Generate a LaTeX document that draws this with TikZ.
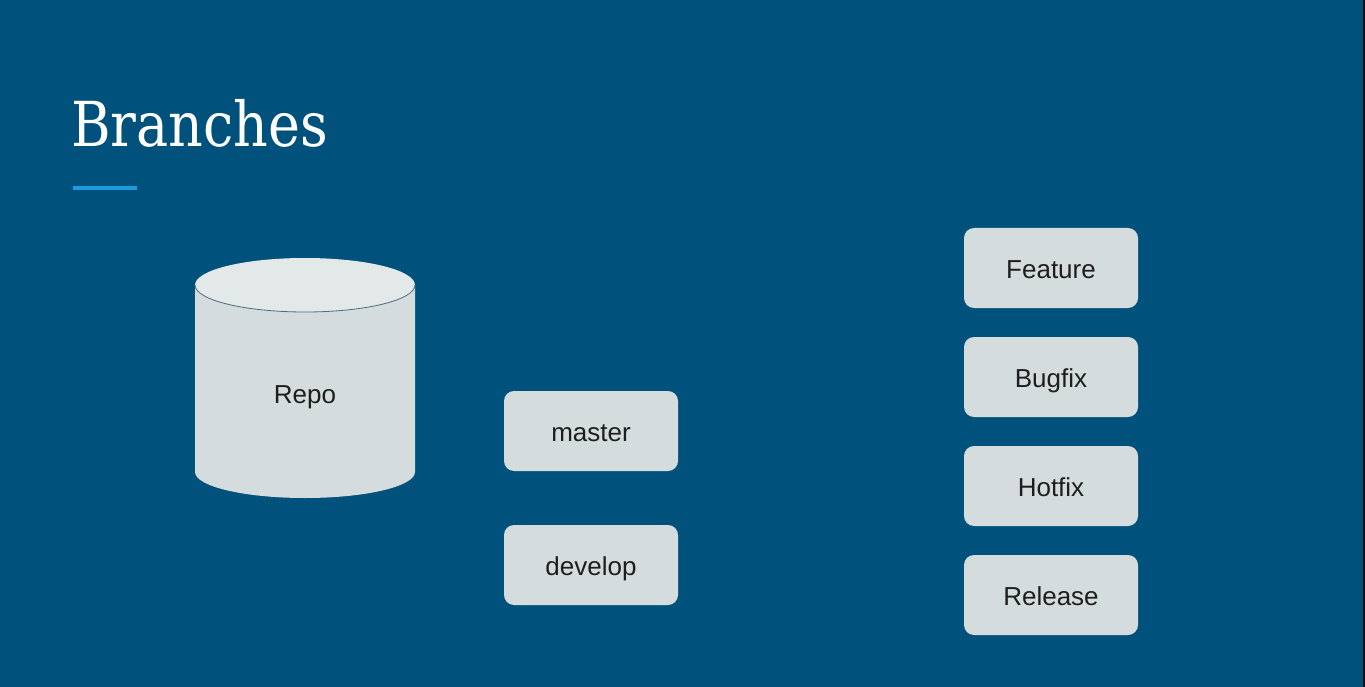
\documentclass[tikz,border=0pt]{standalone}
\usepackage{fontspec}
\setmainfont{Liberation Sans}
\newfontfamily\titlefont{DejaVu Serif}

\definecolor{slidebg}{HTML}{00517B}
\definecolor{accentline}{HTML}{1E9BE0}
\definecolor{boxfill}{HTML}{D5DCDD}
\definecolor{cyltop}{HTML}{E3E8E8}
\definecolor{cylrim}{HTML}{4C6C7E}
\definecolor{boxtext}{HTML}{1E1E1E}

\tikzset{
  labeltext/.style={text=boxtext, font=\fontsize{26}{30}\selectfont,
    text height=20pt, text depth=0pt, inner sep=0pt},
  branchbox/.style={labeltext, rectangle, rounded corners=10pt, fill=boxfill,
    minimum width=174pt, minimum height=80pt}
}

\begin{document}
\begin{tikzpicture}[x=1pt, y=-1pt]

    % 定义公共变量
    \def\leftx{591}      % 左列分支框的水平位置
    \def\rightx{1051}    % 右列分支框的水平位置
    \def\rowsep{109}     % 右列分支框的垂直间距

    % 背景
    \fill[slidebg] (0,0) rectangle (1365,687);
    \fill[black!85!slidebg] (1363,0) rectangle (1365,687);
    \useasboundingbox (0,0) rectangle (1365,687);

    % 标题与下划线
    \node[anchor=base west, inner sep=0pt, text=white,
      font=\titlefont\fontsize{62}{70}\selectfont] (title) at (71,147)
      {\scalebox{0.87}[1]{Branches}};
    \draw[accentline, line width=4pt] (73,188) -- (137,188);

    % 仓库:圆柱体
    \fill[boxfill] (195,285) -- (195,472)
      arc[start angle=180, end angle=0, x radius=110, y radius=26]
      -- (415,285) -- cycle;
    \fill[cyltop] (305,285) ellipse[x radius=110, y radius=27];
    \draw[cylrim, line width=0.8pt] (195,285)
      arc[start angle=180, end angle=0, x radius=110, y radius=27];
    \node[labeltext] (repo) at (305,393) {Repo};

    % 主分支
    \node[branchbox] (master) at (\leftx,431) {master};
    \node[branchbox] (develop) at (\leftx,565) {develop};

    % 辅助分支:4个节点
    \foreach \name [count=\i] in {Feature,Bugfix,Hotfix,Release} {
      \pgfmathsetmacro{\ypos}{268+(\i-1)*\rowsep};
      \node[branchbox] (b\i) at (\rightx, \ypos) {\name};
    }

\end{tikzpicture}
\end{document}
